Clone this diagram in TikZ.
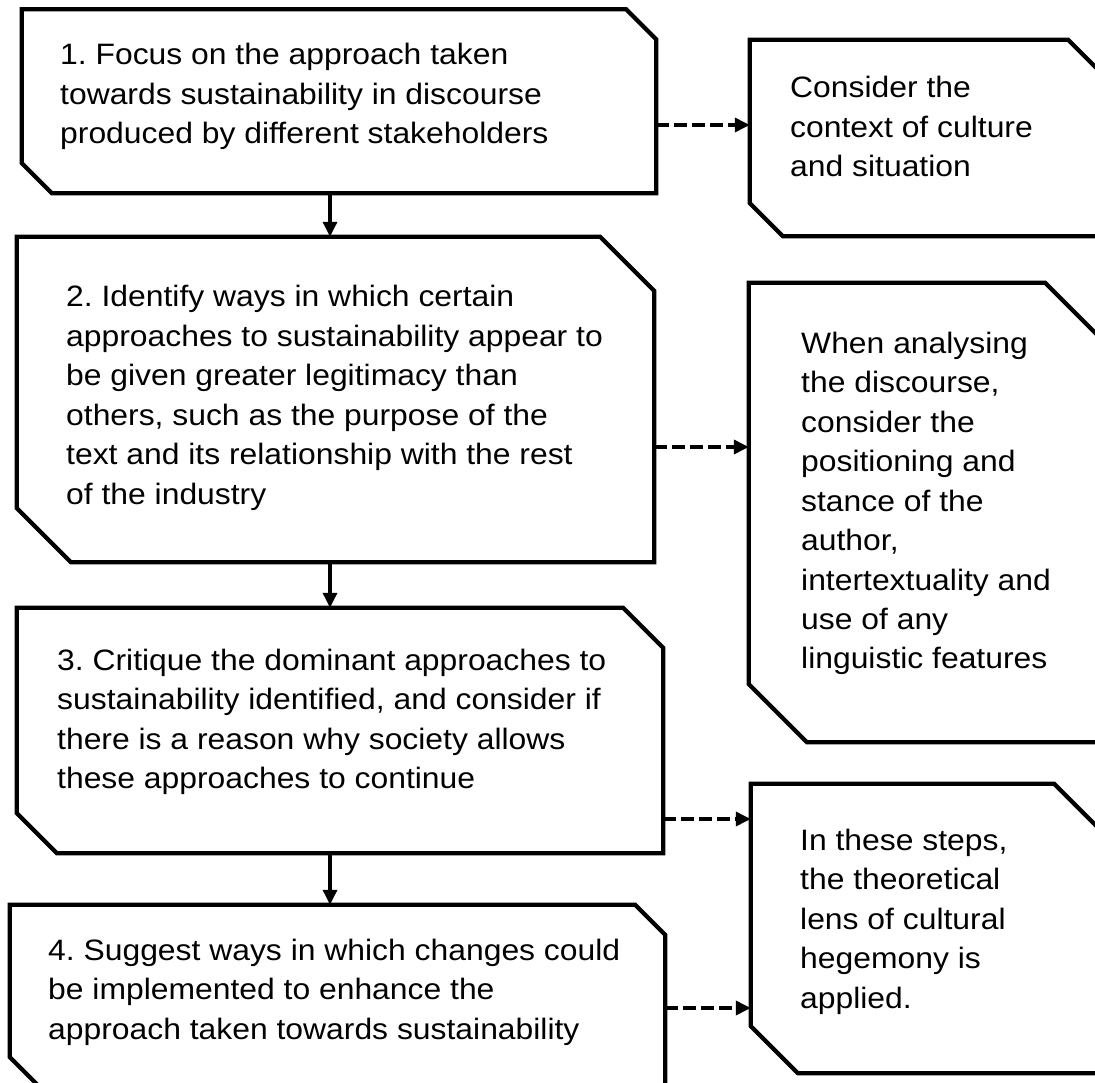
\documentclass[tikz,border=0pt]{standalone}
\usepackage{fontspec}
\setmainfont{Liberation Sans}[FakeStretch=1.08]
\usetikzlibrary{arrows.meta}

% text block: lines given with \\, first baseline at the node's base
\newcommand\flowtext[1]{\parbox[t]{700pt}{\raggedright\frenchspacing\fontsize{29.5}{39.5}\selectfont #1}}

% outline with the north-east and south-west corners cut off
\newcommand\cutbox[3]{%
  \draw[boxline] (#1.north west) -- ([xshift=-#2]#1.north east)
    -- ([yshift=-#2]#1.north east) -- (#1.south east)
    -- ([xshift=#3]#1.south west) -- ([yshift=#3]#1.south west) -- cycle;}

\tikzset{
  frame/.style={rectangle, draw=none, inner sep=0pt},
  boxline/.style={line width=4.2pt, line join=miter},
  txt/.style={inner sep=0pt, anchor=base west},
  flowarrow/.style={line width=3.3pt, -{Triangle[length=15pt,width=14pt]}},
  notearrow/.style={line width=3.4pt, dash pattern=on 12.5pt off 5.5pt,
                    -{Triangle[length=15pt,width=14pt]}}
}

\begin{document}
\begin{tikzpicture}[x=1pt, y=-1pt]
\useasboundingbox (0,0) rectangle (1095,1083);
\fill[white] (0,0) rectangle (1095,1083);
\clip (0,0) rectangle (1095,1083);

% main steps
\node[frame, minimum width=634pt, minimum height=183.5pt] (b1) at (339,101.25) {};
\node[frame, minimum width=637pt, minimum height=325pt]   (b2) at (335.5,399.5) {};
\node[frame, minimum width=646pt, minimum height=245pt]   (b3) at (340,730.5) {};
\node[frame, minimum width=655pt, minimum height=183pt]   (b4) at (337.5,996.5) {};

% side notes
\node[frame, minimum width=351pt, minimum height=196pt] (r1) at (925.5,138) {};
\node[frame, minimum width=354pt, minimum height=459pt] (r2) at (926,512.5) {};
\node[frame, minimum width=350pt, minimum height=289pt] (r3) at (926,928.5) {};

\cutbox{b1}{30pt}{30pt}
\cutbox{b2}{54pt}{54pt}
\cutbox{b3}{40pt}{40pt}
\cutbox{b4}{30pt}{31pt}
\cutbox{r1}{33pt}{33pt}
\cutbox{r2}{58pt}{58pt}
\cutbox{r3}{47pt}{47pt}

% texts
\node[txt] (t1) at (60,65) {\flowtext{1. Focus on the approach taken\\
  towards sustainability in discourse\\ produced by different stakeholders}};
\node[txt] (t2) at (66,307) {\flowtext{2. Identify ways in which certain\\
  approaches to sustainability appear to\\ be given greater legitimacy than\\
  others, such as the purpose of the\\ text and its relationship with the rest\\
  of the industry}};
\node[txt] (t3) at (57,670) {\flowtext{3. Critique the dominant approaches to\\
  sustainability identified, and consider if\\ there is a reason why society allows\\
  these approaches to continue}};
\node[txt] (t4) at (48,960) {\flowtext{4. Suggest ways in which changes could\\
  be implemented to enhance the\\ approach taken towards sustainability}};

\node[txt] (s1) at (790,98) {\flowtext{Consider the\\ context of culture\\ and situation}};
\node[txt] (s2) at (801,353) {\flowtext{When analysing\\ the discourse,\\ consider the\\
  positioning and\\ stance of the\\ author,\\ intertextuality and\\ use of any\\
  linguistic features}};
\node[txt] (s3) at (800,850) {\flowtext{In these steps,\\ the theoretical\\
  lens of cultural\\ hegemony is\\ applied.}};

% step-to-step arrows
\coordinate (axis) at (330,0);
\draw[flowarrow] (b1.south -| axis) -- (b2.north -| axis);
\draw[flowarrow] (b2.south -| axis) -- (b3.north -| axis);
\draw[flowarrow] (b3.south -| axis) -- (b4.north -| axis);

% step-to-note arrows
\coordinate (d1) at ([yshift=-23.75pt]b1.east);
\coordinate (d2) at ([yshift=-47.5pt]b2.east);
\coordinate (d3) at ([yshift=-88.5pt]b3.east);
\coordinate (d4) at ([yshift=-11.5pt]b4.east);
\draw[notearrow] (d1) -- (d1 -| r1.west);
\draw[notearrow] (d2) -- (d2 -| r2.west);
\draw[notearrow] (d3) -- (d3 -| r3.west);
\draw[notearrow] (d4) -- (d4 -| r3.west);
\end{tikzpicture}
\end{document}
